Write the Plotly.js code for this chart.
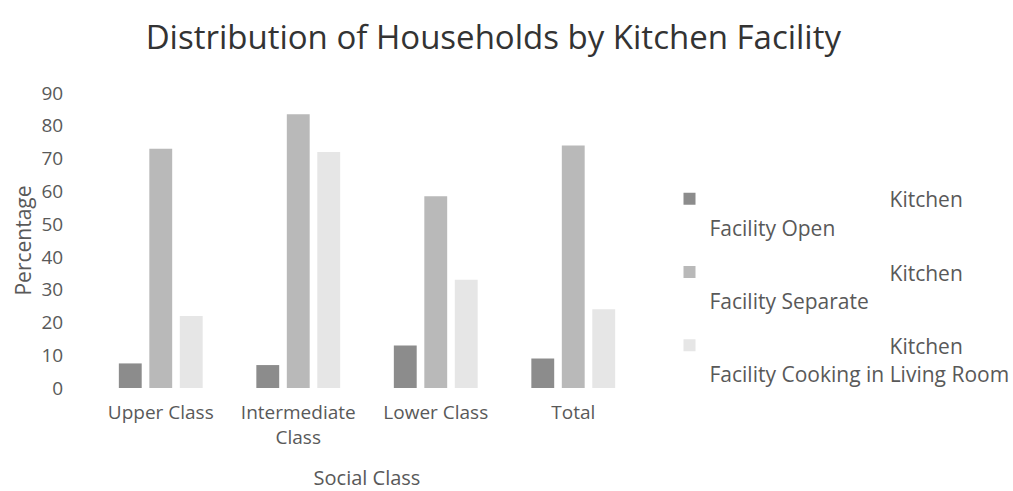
<!DOCTYPE html>
<html>
<head>
<meta charset="utf-8">
<script src="https://cdn.plot.ly/plotly-3.0.1.min.js"></script>
<style>html,body{margin:0;padding:0;background:#fff;}#chart{width:1013px;height:491px;}</style>
</head>
<body>
<div id="chart"></div>
<script>
var categories = ["Upper Class", "Intermediate<br>Class", "Lower Class", "Total"];
var seriesNames = ["Kitchen Facility Open", "Kitchen Facility Separate", "Kitchen Facility Cooking in Living Room"];
var kitchenOpen = [7.5, 7, 13, 9];
var kitchenSeparate = [73, 83.5, 58.5, 74];
var kitchenLiving = [22, 72, 33, 24];
var yTicks = [0, 10, 20, 30, 40, 50, 60, 70, 80, 90];

var colors = ["#8c8c8c", "#b9b9b9", "#e6e6e6"];
var pad = "\u00a0".repeat(33);
function legendName(n) {
  var parts = n.split(" ");
  var first = parts[0];
  var rest = parts.slice(1).join(" ");
  return "<span style='font-size:21px'>" + pad + first + "</span><br><span style='font-size:21px'>" + rest + "</span>";
}
var seriesValues = [kitchenOpen, kitchenSeparate, kitchenLiving];
var data = seriesValues.map(function (vals, i) {
  return {
    type: "bar",
    x: categories,
    y: vals,
    name: legendName(seriesNames[i]),
    legendgroup: "g" + i,
    marker: {color: colors[i]}
  };
});

var layout = {
  width: 1013,
  height: 491,
  paper_bgcolor: "#ffffff",
  plot_bgcolor: "#ffffff",
  font: {family: "'Open Sans', Lato, sans-serif", color: "#595959", size: 19},
  title: {
    text: "Distribution of Households by Kitchen Facility",
    font: {family: "'Open Sans', sans-serif", size: 33, color: "#333333"},
    x: 0.487, xanchor: "center", y: 0.923, yanchor: "middle"
  },
  margin: {l: 92, r: 371, t: 93, b: 103, autoexpand: false},
  barmode: "group",
  bargap: 0.335,
  bargroupgap: 0.25,
  showlegend: true,
  legend: {
    x: 1.05, xanchor: "left", y: 0.712, yanchor: "top",
    valign: "top",
    font: {size: 22, color: "#595959"},
    tracegroupgap: 13,
    itemwidth: 30
  },
  xaxis: {
    type: "category",
    showline: false,
    showgrid: false,
    zeroline: false,
    ticks: "outside",
    ticklen: 7,
    tickcolor: "rgba(0,0,0,0)",
    tickfont: {size: 19, color: "#595959"},
    title: {text: "Social Class", font: {size: 20, color: "#595959"}, standoff: 23}
  },
  yaxis: {
    range: [0, 90],
    tickvals: yTicks,
    ticktext: yTicks.map(String),
    showgrid: false,
    zeroline: false,
    showline: false,
    ticks: "outside",
    ticklen: 24,
    tickcolor: "rgba(0,0,0,0)",
    tickfont: {size: 19, color: "#595959"},
    title: {text: "Percentage", font: {size: 21, color: "#595959"}, standoff: 4}
  }
};

Plotly.newPlot("chart", data, layout, {displayModeBar: false, staticPlot: true});
</script>
</body>
</html>
